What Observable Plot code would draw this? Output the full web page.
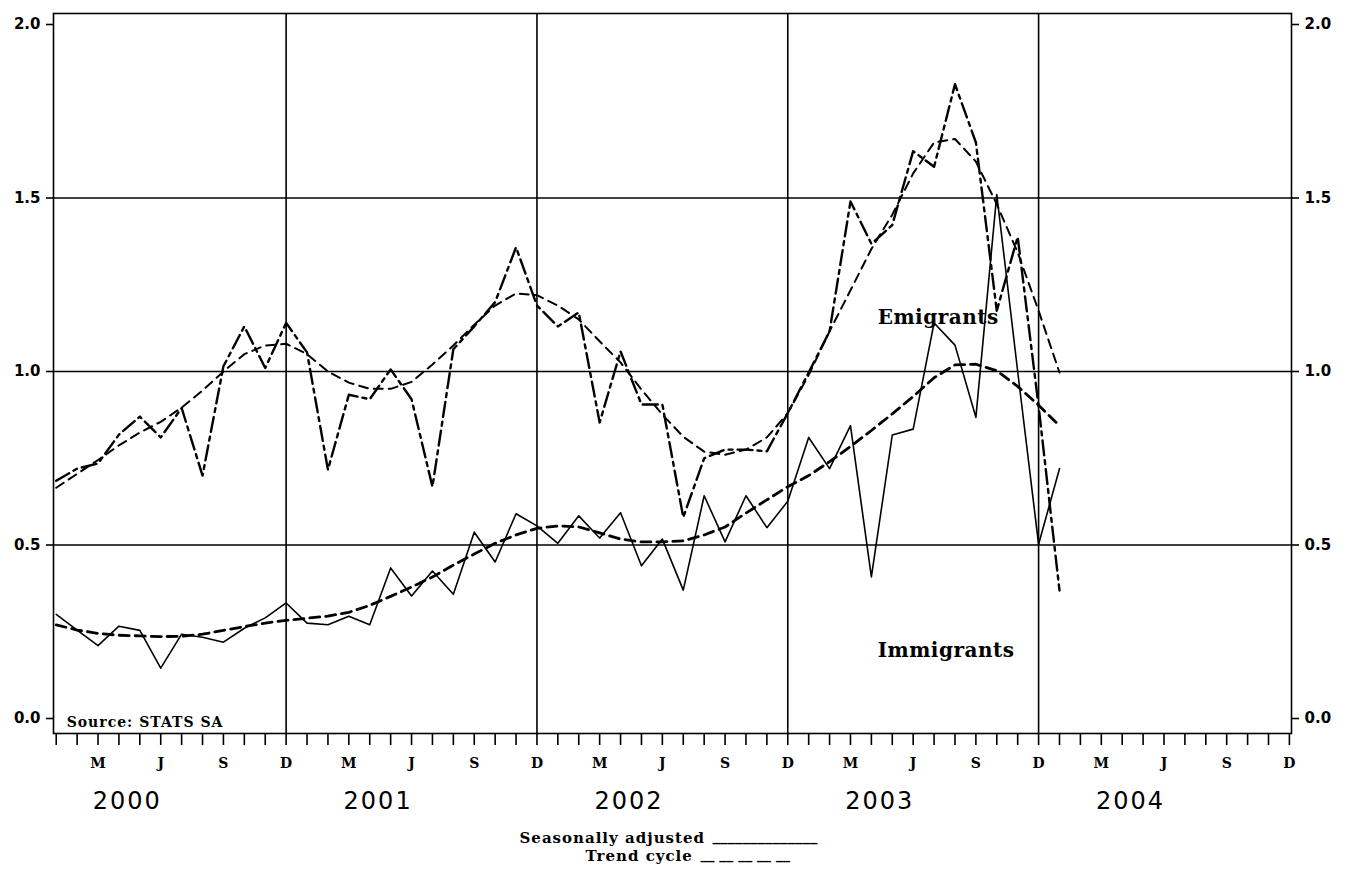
<!DOCTYPE html>
<html><head><meta charset="utf-8">
<script src="https://cdn.jsdelivr.net/npm/d3@7"></script>
<script src="https://cdn.jsdelivr.net/npm/@observablehq/plot@0.6"></script>
<style>body{margin:0;background:#fff}</style>
</head><body><div id="chart"></div>
<script>
// Month index 0 = Jan 2000 ... 48 = Jan 2004
const years = ["2000", "2001", "2002", "2003", "2004"];
const quarterLetters = ["M", "J", "S", "D"];
const yTicks = [0, 0.5, 1.0, 1.5, 2.0];

const immigrantsSA = [0.30,0.255,0.21,0.266,0.254,0.145,0.243,0.234,0.22,0.26,0.29,0.333,
  0.275,0.27,0.295,0.27,0.434,0.353,0.425,0.358,0.537,0.451,0.59,0.555,
  0.505,0.584,0.52,0.593,0.44,0.517,0.37,0.642,0.509,0.642,0.55,0.626,
  0.81,0.72,0.844,0.408,0.817,0.834,1.14,1.076,0.868,1.51,1.0,0.502,
  0.72];
const immigrantsTrend = [0.27,0.255,0.245,0.24,0.238,0.236,0.237,0.243,0.254,0.265,0.275,0.283,
  0.289,0.295,0.306,0.326,0.352,0.379,0.408,0.442,0.474,0.505,0.529,0.548,
  0.555,0.552,0.535,0.517,0.509,0.509,0.512,0.529,0.552,0.592,0.63,0.668,
  0.70,0.74,0.784,0.83,0.878,0.928,0.982,1.019,1.021,1.002,0.957,0.903,
  0.844];
const emigrantsSA = [0.685,0.72,0.735,0.818,0.87,0.81,0.895,0.70,1.015,1.13,1.01,1.14,
  1.055,0.717,0.933,0.92,1.006,0.92,0.668,1.064,1.13,1.20,1.358,1.19,
  1.13,1.17,0.853,1.058,0.905,0.905,0.58,0.75,0.775,0.775,0.77,0.88,
  0.997,1.116,1.49,1.368,1.422,1.635,1.59,1.828,1.66,1.175,1.388,0.9,
  0.369];
const emigrantsTrend = [0.665,0.705,0.745,0.787,0.824,0.855,0.896,0.945,1.0,1.05,1.075,1.08,
  1.05,1.0,0.968,0.95,0.95,0.97,1.02,1.075,1.135,1.19,1.225,1.22,
  1.19,1.15,1.087,1.026,0.948,0.876,0.812,0.769,0.76,0.775,0.81,0.88,
  0.99,1.116,1.234,1.353,1.452,1.571,1.66,1.67,1.605,1.482,1.343,1.175,
  0.997];

const seriesLabels = ["Emigrants", "Immigrants"];
const sourceText = "Source: STATS SA";
const legendLabels = ["Seasonally adjusted", "Trend cycle"];

const monthTicks = d3.range(0, 60);
const quarterTicks = monthTicks.filter(i => i % 3 === 2).map(i => ({i, label: quarterLetters[((i + 1) / 3 - 1) % 4]}));
const yearEnds = [11, 23, 35, 47];

const serif = "DejaVu Serif";
const idx = (d, i) => i;
const txt = d => d;

const plot = Plot.plot({
  width: 1356,
  height: 870,
  marginLeft: 53,
  marginRight: 65,
  marginTop: 13,
  marginBottom: 137,
  style: {background: "#fff", color: "#000", fontFamily: "DejaVu Sans", overflow: "visible"},
  x: {type: "linear", domain: [-0.13, 59.1]},
  y: {type: "linear", domain: [-0.0432, 2.0317]},
  marks: [
    Plot.ruleY([0.5, 1.0, 1.5], {stroke: "#000", strokeWidth: 1.6}),
    Plot.ruleX(yearEnds, {stroke: "#000", strokeWidth: 1.6}),
    Plot.frame({stroke: "#000", strokeWidth: 1.6}),
    Plot.axisY({anchor: "left", ticks: yTicks, tickSize: 7, tickPadding: 6, tickFormat: d3.format(".1f"), label: null, fontWeight: "bold", fontSize: 15, strokeWidth: 1.6}),
    Plot.axisY({anchor: "right", ticks: yTicks, tickSize: 7, tickPadding: 6, tickFormat: d3.format(".1f"), label: null, fontWeight: "bold", fontSize: 15, strokeWidth: 1.6}),
    Plot.axisX({ticks: monthTicks, tickSize: 12, tickFormat: () => "", label: null, strokeWidth: 1.6}),
    Plot.text(quarterTicks, {x: "i", text: "label", frameAnchor: "bottom", dy: 34, fontFamily: serif, fontWeight: "bold", fontSize: 14}),
    Plot.text(years, {x: (d, k) => 3.4 + 12 * k, text: txt, frameAnchor: "bottom", dy: 75, fontFamily: "DejaVu Sans", fontSize: 24}),
    Plot.line(immigrantsSA, {x: idx, y: txt, stroke: "#000", strokeWidth: 1.6}),
    Plot.line(immigrantsTrend, {x: idx, y: txt, stroke: "#000", strokeWidth: 2.8, strokeDasharray: "10,6"}),
    Plot.line(emigrantsTrend, {x: idx, y: txt, stroke: "#000", strokeWidth: 2, strokeDasharray: "9,6"}),
    Plot.line(emigrantsSA, {x: idx, y: txt, stroke: "#000", strokeWidth: 2.4, strokeDasharray: "15,5,4,5"}),
    Plot.text([seriesLabels[0]], {x: 39.3, y: 1.156, text: txt, textAnchor: "start", fontFamily: serif, fontWeight: "bold", fontSize: 20}),
    Plot.text([seriesLabels[1]], {x: 39.3, y: 0.196, text: txt, textAnchor: "start", fontFamily: serif, fontWeight: "bold", fontSize: 20}),
    Plot.text([sourceText], {x: 0.5, y: -0.012, text: txt, textAnchor: "start", fontFamily: serif, fontWeight: "bold", fontSize: 14}),
    Plot.text([legendLabels[0]], {frameAnchor: "bottom-left", dx: 466, dy: 109, text: txt, textAnchor: "start", fontFamily: serif, fontWeight: "bold", fontSize: 15}),
    Plot.text(["______________"], {frameAnchor: "bottom-left", dx: 659, dy: 107, text: txt, textAnchor: "start", fontFamily: serif, fontWeight: "bold", fontSize: 15}),
    Plot.text([legendLabels[1]], {frameAnchor: "bottom-left", dx: 532, dy: 127, text: txt, textAnchor: "start", fontFamily: serif, fontWeight: "bold", fontSize: 15}),
    Plot.text(["__ __ __ __ __"], {frameAnchor: "bottom-left", dx: 647, dy: 125, text: txt, textAnchor: "start", fontFamily: serif, fontWeight: "bold", fontSize: 14})
  ]
});
const spacingFor = t => years.includes(t) ? 2 : seriesLabels.includes(t) ? 0.5 : (t === sourceText || legendLabels.includes(t)) ? 1 : null;
plot.querySelectorAll("text").forEach(el => {
  const s = spacingFor(el.textContent);
  if (s != null) el.setAttribute("letter-spacing", s);
});
document.getElementById("chart").appendChild(plot);
</script>
</body></html>
